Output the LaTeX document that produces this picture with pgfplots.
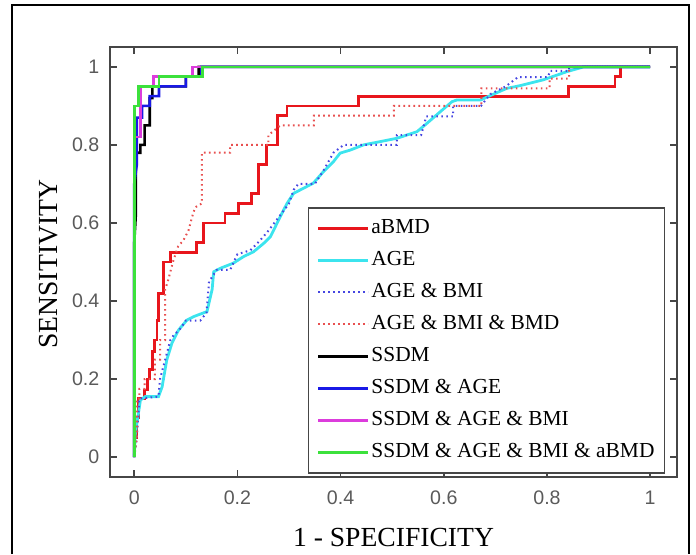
\documentclass[border=0pt]{standalone}
\usepackage{pgfplots}
\pgfplotsset{compat=1.18}
\usepackage{fontspec}
\setmainfont{Liberation Serif}
\newfontfamily\tickfont{Liberation Sans}
\definecolor{cRed}{RGB}{232,22,28}
\definecolor{cCyan}{RGB}{60,228,238}
\definecolor{cBlueDot}{RGB}{70,70,225}
\definecolor{cRedDot}{RGB}{232,80,80}
\definecolor{cBlue}{RGB}{25,25,230}
\definecolor{cMag}{RGB}{220,60,220}
\definecolor{cGreen}{RGB}{60,225,60}
\definecolor{axgray}{RGB}{70,70,70}
\definecolor{tickgray}{RGB}{90,90,90}
\begin{document}
\begin{tikzpicture}
\useasboundingbox (0,0) rectangle (348pt,277pt);
\draw[line width=1pt] (6pt,0pt) -- (6pt,274.5pt) -- (344.5pt,274.5pt) -- (344.5pt,0pt);
\begin{axis}[
  at={(55pt,38.5pt)}, anchor=south west,
  scale only axis, width=283.5pt, height=215pt,
  xmin=-0.047, xmax=1.052, ymin=-0.051, ymax=1.051,
  xtick={0,0.2,0.4,0.6,0.8,1}, ytick={0,0.2,0.4,0.6,0.8,1},
  xticklabels={0,0.2,0.4,0.6,0.8,1}, yticklabels={0,0.2,0.4,0.6,0.8,1},
  tick align=inside, major tick length=3.5pt,
  axis line style={axgray, line width=0.8pt},
  every tick/.style={axgray, line width=0.8pt},
  /pgf/number format/assume math mode=true,
  xticklabel style={font=\tickfont\fontsize{9.8}{11}\selectfont, text=tickgray, yshift=-3.5pt},
  yticklabel style={font=\tickfont\fontsize{9.8}{11}\selectfont, text=tickgray, xshift=-1.8pt},
  xlabel={1 - SPECIFICITY}, ylabel={SENSITIVITY},
  xlabel style={font=\fontsize{13.8}{15}\selectfont, at={(axis description cs:0.5,-0.14)}, anchor=center},
  ylabel style={font=\fontsize{13.8}{15}\selectfont, at={(axis description cs:-0.1076,0.495)}, anchor=center, rotate=0},
  legend cell align=left,
  legend image code/.code={\draw[#1] (0pt,0pt) -- (25pt,0pt);},
  legend style={at={(rel axis cs:0.349,0.628)}, anchor=north west,
    draw=axgray, line width=0.8pt, inner xsep=4pt, inner ysep=4pt,
    font=\fontsize{10.7}{13}\selectfont, row sep=3.5pt,
    nodes={inner sep=1pt, text height=8pt, text depth=2.5pt}},
]
% aBMD
\addplot[cRed, line width=1.4pt] coordinates {
(0,0)(0,0.05)(0.004,0.05)(0.004,0.1)(0.008,0.1)(0.008,0.15)(0.02,0.15)(0.02,0.172)(0.025,0.172)(0.025,0.2)(0.03,0.2)(0.03,0.225)(0.035,0.225)(0.035,0.27)(0.04,0.27)(0.04,0.3)(0.044,0.3)(0.044,0.35)(0.047,0.35)(0.047,0.42)(0.057,0.42)(0.057,0.5)(0.07,0.5)(0.07,0.525)(0.121,0.525)(0.121,0.55)(0.134,0.55)(0.134,0.6)(0.176,0.6)(0.176,0.625)(0.202,0.625)(0.202,0.65)(0.228,0.65)(0.228,0.675)(0.241,0.675)(0.241,0.75)(0.257,0.75)(0.257,0.8)(0.277,0.8)(0.277,0.875)(0.296,0.875)(0.296,0.9)(0.435,0.9)(0.435,0.925)(0.842,0.925)(0.842,0.95)(0.932,0.95)(0.932,0.975)(0.942,0.975)(0.942,1)(1,1)};
\addlegendentry{aBMD}
% AGE
\addplot[cCyan, line width=1.4pt] coordinates {
(0,0)(0.002,0.06)(0.012,0.146)(0.021,0.155)(0.047,0.155)(0.054,0.18)(0.063,0.249)(0.073,0.292)(0.086,0.326)(0.102,0.351)(0.115,0.36)(0.141,0.373)(0.151,0.43)(0.154,0.475)(0.167,0.484)(0.192,0.497)(0.212,0.514)(0.231,0.526)(0.251,0.548)(0.264,0.565)(0.28,0.608)(0.296,0.65)(0.309,0.676)(0.328,0.689)(0.347,0.702)(0.367,0.732)(0.386,0.757)(0.399,0.779)(0.419,0.787)(0.444,0.8)(0.509,0.817)(0.548,0.834)(0.567,0.855)(0.593,0.885)(0.616,0.911)(0.625,0.915)(0.671,0.915)(0.696,0.93)(0.722,0.945)(0.748,0.952)(0.793,0.967)(0.839,0.988)(0.871,1)(1,1)};
\addlegendentry{AGE}
% AGE & BMI
\addplot[cBlueDot, line width=1pt, dash pattern=on 0.8pt off 1.7pt] coordinates {
(0,0)(0.005,0.05)(0.01,0.15)(0.047,0.155)(0.05,0.2)(0.06,0.25)(0.07,0.3)(0.075,0.31)(0.09,0.33)(0.1,0.35)(0.128,0.35)(0.14,0.37)(0.145,0.45)(0.16,0.48)(0.186,0.48)(0.2,0.52)(0.225,0.53)(0.24,0.55)(0.257,0.575)(0.283,0.62)(0.3,0.65)(0.309,0.685)(0.318,0.7)(0.35,0.7)(0.367,0.735)(0.386,0.78)(0.406,0.8)(0.509,0.8)(0.509,0.825)(0.556,0.825)(0.566,0.873)(0.618,0.873)(0.618,0.9)(0.672,0.9)(0.69,0.93)(0.72,0.95)(0.744,0.974)(0.802,0.974)(0.806,0.99)(0.843,0.99)(0.843,1)(1,1)};
\addlegendentry{AGE \& BMI}
% AGE & BMI & BMD
\addplot[cRedDot, line width=1pt, dash pattern=on 0.8pt off 1.7pt] coordinates {
(0,0)(0.005,0.05)(0.005,0.15)(0.01,0.15)(0.01,0.175)(0.02,0.175)(0.02,0.2)(0.04,0.2)(0.04,0.25)(0.05,0.25)(0.05,0.3)(0.06,0.3)(0.06,0.43)(0.065,0.45)(0.075,0.5)(0.085,0.54)(0.095,0.555)(0.105,0.58)(0.112,0.615)(0.118,0.64)(0.131,0.65)(0.131,0.78)(0.186,0.78)(0.186,0.8)(0.26,0.8)(0.26,0.825)(0.283,0.85)(0.348,0.85)(0.348,0.875)(0.503,0.875)(0.503,0.9)(0.673,0.9)(0.673,0.945)(0.805,0.945)(0.805,0.97)(0.843,0.97)(0.843,1)(1,1)};
\addlegendentry{AGE \& BMI \& BMD}
% SSDM
\addplot[black, line width=1.3pt] coordinates {
(0,0)(0,0.55)(0.003,0.62)(0.003,0.78)(0.012,0.78)(0.012,0.8)(0.02,0.8)(0.02,0.85)(0.03,0.85)(0.03,0.92)(0.035,0.92)(0.035,0.95)(0.1,0.95)(0.1,0.975)(0.125,0.975)(0.125,1)(1,1)};
\addlegendentry{SSDM}
% SSDM & AGE
\addplot[cBlue, line width=1.3pt] coordinates {
(0,0)(0,0.7)(0.005,0.75)(0.005,0.87)(0.015,0.87)(0.015,0.9)(0.03,0.9)(0.03,0.925)(0.048,0.925)(0.048,0.95)(0.1,0.95)(0.1,0.975)(0.13,0.975)(0.13,1)(1,1)};
\addlegendentry{SSDM \& AGE}
% SSDM & AGE & BMI
\addplot[cMag, line width=1.3pt] coordinates {
(0,0)(0,0.82)(0.012,0.82)(0.012,0.95)(0.037,0.95)(0.037,0.975)(0.113,0.975)(0.113,1)(1,1)};
\addlegendentry{SSDM \& AGE \& BMI}
% SSDM & AGE & BMI & aBMD
\addplot[cGreen, line width=1.4pt] coordinates {
(0,0)(0,0.9)(0.008,0.9)(0.008,0.95)(0.048,0.95)(0.048,0.975)(0.132,0.975)(0.132,1)(1,1)};
\addlegendentry{SSDM \& AGE \& BMI \& aBMD}
\end{axis}
\end{tikzpicture}
\end{document}
